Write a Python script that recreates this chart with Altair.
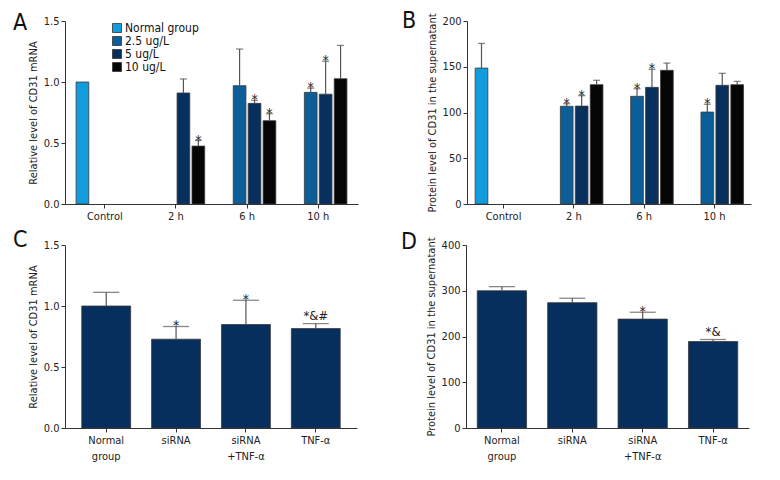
import altair as alt
import pandas as pd

FONT = "DejaVu Sans Condensed, Liberation Sans Narrow, Roboto, sans-serif"

# ---------------- data ----------------
times = ["Control", "2 h", "6 h", "10 h"]
series = ["Normal group", "2.5 ug/L", "5 ug/L", "10 ug/L"]
series_colors = ["#129BDD", "#0B5E98", "#07305E", "#050505"]

# Panel A: relative CD31 mRNA (value, error, significance) per series across times
a_vals = {
    "Normal group": [1.00, None, None, None],
    "2.5 ug/L": [None, None, 0.97, 0.915],
    "5 ug/L": [None, 0.91, 0.825, 0.90],
    "10 ug/L": [None, 0.475, 0.683, 1.027],
}
a_errs = {
    "Normal group": [0.0, None, None, None],
    "2.5 ug/L": [None, None, 0.30, 0.035],
    "5 ug/L": [None, 0.115, 0.025, 0.27],
    "10 ug/L": [None, 0.045, 0.057, 0.273],
}
a_sig = {
    "Normal group": ["", "", "", ""],
    "2.5 ug/L": ["", "", "", "*"],
    "5 ug/L": ["", "", "*", "*"],
    "10 ug/L": ["", "*", "*", ""],
}

# Panel B: protein level of CD31 in supernatant
b_vals = {
    "Normal group": [148.5, None, None, None],
    "2.5 ug/L": [None, 106.8, 117.7, 100.5],
    "5 ug/L": [None, 107.0, 127.5, 129.7],
    "10 ug/L": [None, 130.4, 146.1, 130.4],
}
b_errs = {
    "Normal group": [27.0, None, None, None],
    "2.5 ug/L": [None, 2.8, 8.3, 8.5],
    "5 ug/L": [None, 11.4, 19.7, 13.1],
    "10 ug/L": [None, 4.8, 7.9, 3.6],
}
b_sig = {
    "Normal group": ["", "", "", ""],
    "2.5 ug/L": ["", "*", "*", "*"],
    "5 ug/L": ["", "*", "*", ""],
    "10 ug/L": ["", "", "", ""],
}

# Panels C / D
groups = ["Normal group", "siRNA", "siRNA +TNF-α", "TNF-α"]
c_vals = [1.00, 0.728, 0.848, 0.815]
c_errs = [0.112, 0.104, 0.199, 0.041]
c_sig = ["", "*", "*", "*&#"]

d_vals = [300.0, 274.0, 238.0, 189.0]
d_errs = [9.0, 9.6, 15.0, 4.4]
d_sig = ["", "", "*", "*&"]

panel_letters = ["A", "B", "C", "D"]

bar_color = "#062F5E"


def grouped_df(vals, errs, sigs):
    rows = []
    for s in series:
        for t, v, e, g in zip(times, vals[s], errs[s], sigs[s]):
            if v is None:
                continue
            rows.append({"time": t, "series": s, "value": v, "upper": v + e, "sig": g})
    return pd.DataFrame(rows)


def simple_df(vals, errs, sigs):
    return pd.DataFrame(
        {"group": groups, "value": vals,
         "upper": [v + e for v, e in zip(vals, errs)], "sig": sigs}
    )


def letter_layer(letter, lx, ly):
    return alt.Chart(pd.DataFrame({"letter": [letter]})).mark_text(
        font=FONT, fontSize=23, align="left", baseline="alphabetic", color="#111"
    ).encode(x=alt.value(lx), y=alt.value(ly), text="letter:N")


def star_layers(base):
    single = base.transform_filter("datum.sig == '*'").mark_text(
        font=FONT, fontSize=14, baseline="alphabetic", dy=4, color="#222"
    ).encode(y="upper:Q", text="sig:N")
    multi = base.transform_filter("datum.sig != '' && datum.sig != '*'").mark_text(
        font=FONT, fontSize=13, baseline="alphabetic", dy=-4, color="#222"
    ).encode(y="upper:Q", text="sig:N")
    return [single, multi]


def grouped_panel(df, ymax, ystep, fmt, ytitle, letter, lpos, width, pin, pout, legend):
    base = alt.Chart(df).encode(
        x=alt.X("time:N", sort=times,
                scale=alt.Scale(domain=times, paddingInner=pin, paddingOuter=pout),
                axis=alt.Axis(title=None, labelAngle=0)),
        xOffset=alt.XOffset("series:N",
                            scale=alt.Scale(domain=series, paddingInner=0.15, paddingOuter=0.075)),
    )
    yvals = [round(i * ystep, 3) for i in range(int(round(ymax / ystep)) + 1)]
    y = alt.Y("value:Q", scale=alt.Scale(domain=[0, ymax], nice=False, zero=True),
              axis=alt.Axis(title=ytitle, values=yvals, format=fmt))
    if legend is None:
        color = alt.Color("series:N", scale=alt.Scale(domain=series, range=series_colors),
                          legend=None)
    else:
        color = alt.Color("series:N", scale=alt.Scale(domain=series, range=series_colors),
                          legend=legend)
    bars = base.mark_bar(stroke="#3a3a3a", strokeWidth=0.8).encode(y=y, color=color)
    eb = base.transform_filter("datum.upper > datum.value")
    rule = eb.mark_rule(color="#555", strokeWidth=1.2).encode(y="value:Q", y2="upper:Q")
    cap = eb.mark_tick(orient="horizontal", size=7, thickness=1.3, color="#555").encode(
        y="upper:Q")
    return alt.layer(bars, rule, cap, *star_layers(base),
                     letter_layer(letter, *lpos)).properties(width=width, height=183)


def simple_panel(df, ymax, ystep, fmt, ytitle, letter, lpos, width, pout):
    yvals = [round(i * ystep, 3) for i in range(int(round(ymax / ystep)) + 1)]
    base = alt.Chart(df).encode(
        x=alt.X("group:N", sort=groups,
                scale=alt.Scale(domain=groups, paddingInner=0.3, paddingOuter=pout),
                axis=alt.Axis(title=None, labelAngle=0, labelLineHeight=16,
                              labelExpr="split(datum.label, ' ')")),
    )
    y = alt.Y("value:Q", scale=alt.Scale(domain=[0, ymax], nice=False, zero=True),
              axis=alt.Axis(title=ytitle, values=yvals, format=fmt))
    bars = base.mark_bar(color=bar_color, stroke="#3a3a3a", strokeWidth=0.8).encode(y=y)
    rule = base.mark_rule(color="#555", strokeWidth=1.2).encode(y="value:Q", y2="upper:Q")
    cap = base.mark_tick(orient="horizontal", size=26, thickness=1.3, color="#555").encode(
        y="upper:Q")
    return alt.layer(bars, rule, cap, *star_layers(base),
                     letter_layer(letter, *lpos)).properties(width=width, height=183)


legend_a = alt.Legend(title=None, orient="none", legendX=46, legendY=1,
                      symbolType="square", symbolSize=81, symbolStrokeColor="#333",
                      symbolStrokeWidth=0.8, symbolOpacity=1, labelFont=FONT,
                      labelFontSize=12, labelColor="#111", rowPadding=-1.5, labelOffset=2)

pA = grouped_panel(grouped_df(a_vals, a_errs, a_sig), 1.5, 0.5, ".1f",
                   "Relative level of CD31 mRNA", panel_letters[0], (-52, 9),
                   293, 0.16, 0.14, legend_a)
pB = grouped_panel(grouped_df(b_vals, b_errs, b_sig), 200, 50, "d",
                   "Protein level of CD31 in the supernatant", panel_letters[1], (-65, 7),
                   284, 0.16, 0.10, None)
pC = simple_panel(simple_df(c_vals, c_errs, c_sig), 1.5, 0.5, ".1f",
                  "Relative level of CD31 mRNA", panel_letters[2], (-52, 2), 292, 0.24)
pD = simple_panel(simple_df(d_vals, d_errs, d_sig), 400, 100, "d",
                  "Protein level of CD31 in the supernatant", panel_letters[3], (-65, 4),
                  283, 0.16)

row1 = alt.hconcat(pA, pB, spacing=44).resolve_scale(color="independent")
row2 = alt.hconcat(pC, pD, spacing=44)

chart = alt.vconcat(row1, row2, spacing=8).resolve_scale(
    color="independent"
).properties(
    background="white", padding={"left": 5, "top": 2, "right": 5, "bottom": 5}
).configure_view(
    stroke=None
).configure_axis(
    grid=False, domainColor="#333", tickColor="#333", tickSize=4, domainWidth=1,
    labelFont=FONT, labelFontSize=11, labelColor="#222", labelPadding=2,
    titleFont=FONT, titleFontSize=11, titleFontWeight="normal", titleColor="#222",
    titlePadding=5,
)

chart.save("out.html", embed_options={"renderer": "svg", "actions": False})
